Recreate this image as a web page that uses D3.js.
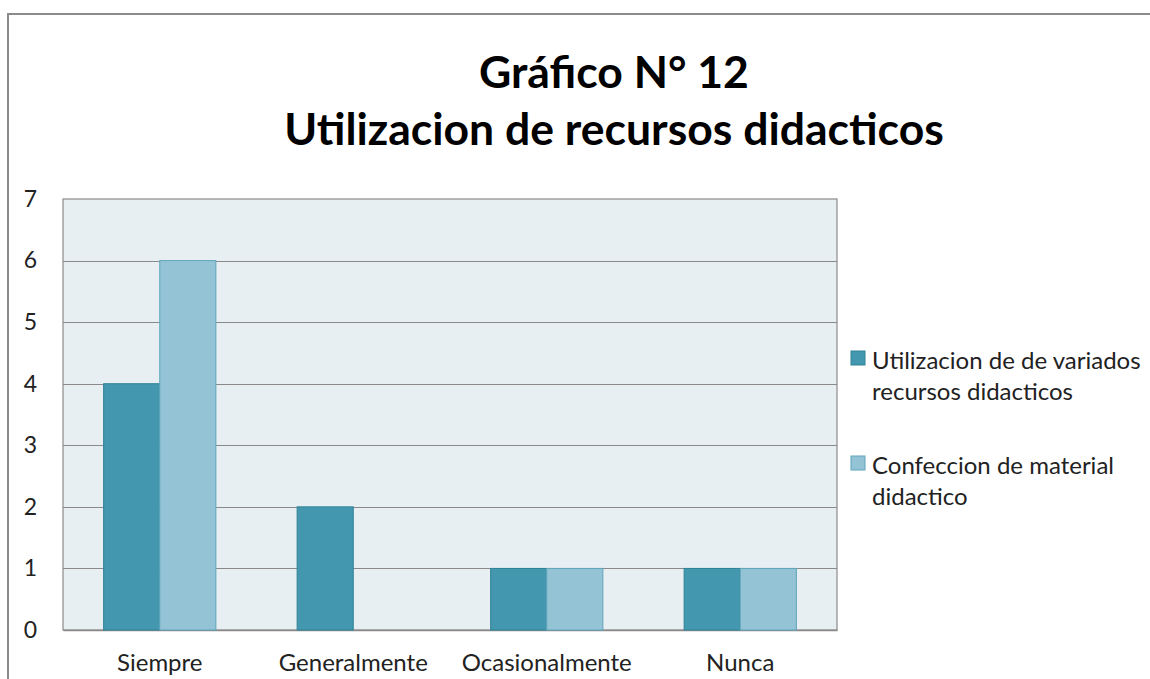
<!DOCTYPE html>
<html lang="es">
<head>
<meta charset="UTF-8">
<title>Gráfico N° 12</title>
<style>
  body { margin: 0; background: #fff; }
  svg text { font-family: Lato, "Open Sans", sans-serif; }
</style>
</head>
<body>
<script src="https://cdn.jsdelivr.net/npm/d3@7"></script>
<script>
// datos
var categorias = ["Siempre", "Generalmente", "Ocasionalmente", "Nunca"];
var series = ["Utilizacion de de variados recursos didacticos", "Confeccion de material didactico"];
var utilizacion = [4, 2, 1, 1];
var confeccion = [6, 0, 1, 1];
var ticksY = [0, 1, 2, 3, 4, 5, 6, 7];
var titulo = ["Gráfico N° 12", "Utilizacion de recursos didacticos"];

var W = 1150, H = 679;
var plot = { left: 63, right: 837, top: 199, bottom: 630 };
var relleno = ["#4397ae", "#93c3d4"];
var borde = ["#2f8298", "#5fa6bc"];

var svg = d3.select("body").append("svg")
    .attr("width", W)
    .attr("height", H);

// marco exterior
svg.append("rect")
    .attr("x", 8).attr("y", 14)
    .attr("width", W + 20).attr("height", H + 20)
    .attr("fill", "#fff")
    .attr("stroke", "#8a8a8a").attr("stroke-width", 2);

// titulo
svg.selectAll("text.titulo")
    .data(titulo)
  .enter().append("text")
    .attr("class", "titulo")
    .attr("x", 614)
    .attr("y", function(d, i) { return 88 + i * 57; })
    .attr("text-anchor", "middle")
    .attr("font-size", 44.5)
    .attr("font-weight", "bold")
    .attr("fill", "#000")
    .text(function(d) { return d; });

var x = d3.scaleBand()
    .domain(categorias)
    .range([plot.left, plot.right])
    .paddingInner(0.42)
    .paddingOuter(0.21);

var xs = d3.scaleBand()
    .domain([0, 1])
    .range([0, x.bandwidth()]);

var y = d3.scaleLinear()
    .domain([0, 7])
    .range([plot.bottom, plot.top]);

// fondo del area de trazado
svg.append("rect")
    .attr("x", plot.left).attr("y", plot.top)
    .attr("width", plot.right - plot.left)
    .attr("height", plot.bottom - plot.top)
    .attr("fill", "#e8eff3")
    .attr("stroke", "#8a8a8a").attr("stroke-width", 1.2);

// lineas de cuadricula
svg.append("g").selectAll("line")
    .data(ticksY.slice(1, -1))
  .enter().append("line")
    .attr("x1", plot.left).attr("x2", plot.right)
    .attr("y1", function(d) { return Math.round(y(d)) + 0.5; })
    .attr("y2", function(d) { return Math.round(y(d)) + 0.5; })
    .attr("stroke", "#8a8a8a").attr("stroke-width", 1);

// eje y
var ejeY = svg.append("g")
    .attr("transform", "translate(" + (plot.left - 26) + ",0)")
    .call(d3.axisLeft(y).tickValues(ticksY).tickFormat(d3.format("d")).tickSize(0).tickPadding(0));
ejeY.select(".domain").remove();
ejeY.selectAll("text")
    .attr("font-size", 23)
    .attr("fill", "#222")
    .attr("font-family", "Lato, sans-serif");

// eje x
var ejeX = svg.append("g")
    .attr("transform", "translate(0," + plot.bottom + ")")
    .call(d3.axisBottom(x).tickSize(0).tickPadding(24));
ejeX.select(".domain").attr("stroke", "#8a8a8a").attr("stroke-width", 1.5);
ejeX.selectAll("text")
    .attr("font-size", 24)
    .attr("fill", "#222")
    .attr("font-family", "Lato, sans-serif");

// barras
var valores = [utilizacion, confeccion];
var grupos = svg.append("g").selectAll("g")
    .data(categorias)
  .enter().append("g")
    .attr("transform", function(d) { return "translate(" + x(d) + ",0)"; });

grupos.selectAll("rect")
    .data(function(d, i) { return [0, 1].map(function(s) { return { s: s, v: valores[s][i] }; }); })
  .enter().append("rect")
    .filter(function(d) { return d.v > 0; })
    .attr("x", function(d) { return xs(d.s); })
    .attr("y", function(d) { return y(d.v); })
    .attr("width", xs.bandwidth())
    .attr("height", function(d) { return y(0) - y(d.v); })
    .attr("fill", function(d) { return relleno[d.s]; })
    .attr("stroke", function(d) { return borde[d.s]; })
    .attr("stroke-width", 1);

// leyenda
var etiquetas = [["Utilizacion de de variados", "recursos didacticos"], ["Confeccion de material", "didactico"]];
var leyenda = svg.append("g").selectAll("g")
    .data(series)
  .enter().append("g")
    .attr("transform", function(d, i) { return "translate(851," + (351 + i * 105) + ")"; });

leyenda.append("rect")
    .attr("width", 14).attr("height", 14)
    .attr("fill", function(d, i) { return relleno[i]; })
    .attr("stroke", function(d, i) { return borde[i]; });

leyenda.each(function(d, i) {
  d3.select(this).selectAll("text")
      .data(etiquetas[i])
    .enter().append("text")
      .attr("x", 21)
      .attr("y", function(t, j) { return 18 + j * 31; })
      .attr("font-size", 24)
      .attr("fill", "#222")
      .text(function(t) { return t; });
});
</script>
</body>
</html>
